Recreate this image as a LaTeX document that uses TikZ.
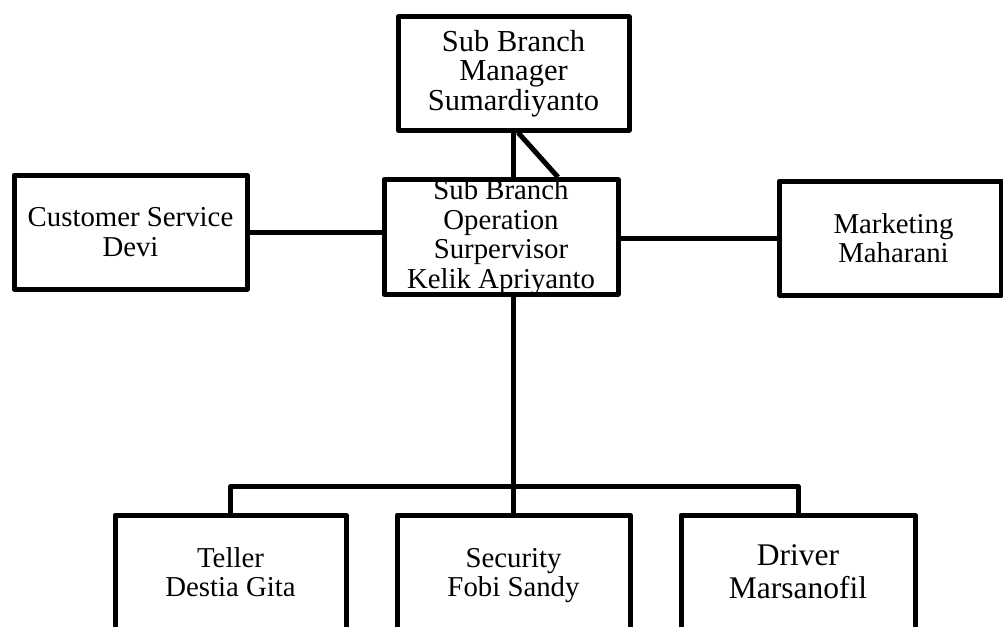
\documentclass[tikz,border=0pt]{standalone}
\usepackage{fontspec}
\setmainfont{Liberation Serif}
\begin{document}
\begin{tikzpicture}[x=1pt,y=-1pt,
  box/.style={draw, line width=5pt, line join=round, inner sep=0pt, align=center,
    font=\fontsize{28.8}{29.5}\selectfont},
  toptext/.style={font=\fontsize{30.5}{29.5}\selectfont},
  bigtext/.style={font=\fontsize{31.5}{31}\selectfont},
  link/.style={line width=5pt, line join=round}]
\useasboundingbox (0,0) rectangle (1003,626);
\node[box, toptext, minimum width=231pt, minimum height=113pt] (top) at (513.5,73.5) {Sub Branch\\Manager\\Sumardiyanto};
\node[box, minimum width=234pt, minimum height=114pt] (mid) at (501,237) {Sub Branch\\Operation\\Surpervisor\\Kelik Apriyanto};
\node[box, minimum width=233pt, minimum height=114pt] (cs) at (130.5,232) {Customer Service\\Devi};
\node[box, minimum width=222pt, minimum height=114pt] (mkt) at (890.5,238) {\hspace*{6pt}Marketing\\\hspace*{6pt}Maharani};
\node[box, minimum width=231pt, minimum height=122pt] (teller) at (230.5,576) {Teller\strut\\Destia Gita\strut};
\node[box, minimum width=233pt, minimum height=122pt] (sec) at (513.5,576) {Security\strut\\Fobi Sandy\strut};
\node[box, bigtext, minimum width=234pt, minimum height=122pt] (drv) at (798,576) {Driver\strut\\Marsanofil\strut};
% connectors
\draw[link] (top.south) -- (top.south |- mid.north);
\draw[link] ([xshift=4.5pt]top.south) -- ([xshift=57pt]mid.north);
\draw[link] (cs.east) -- (cs.east -| mid.west);
\draw[link] (mkt.west) -- (mkt.west -| mid.east);
\draw[link] (mid.south -| sec.north) -- (sec.north);
\draw[link] (teller.north) -- ++(0,-26) -| (drv.north);
\end{tikzpicture}
\end{document}
